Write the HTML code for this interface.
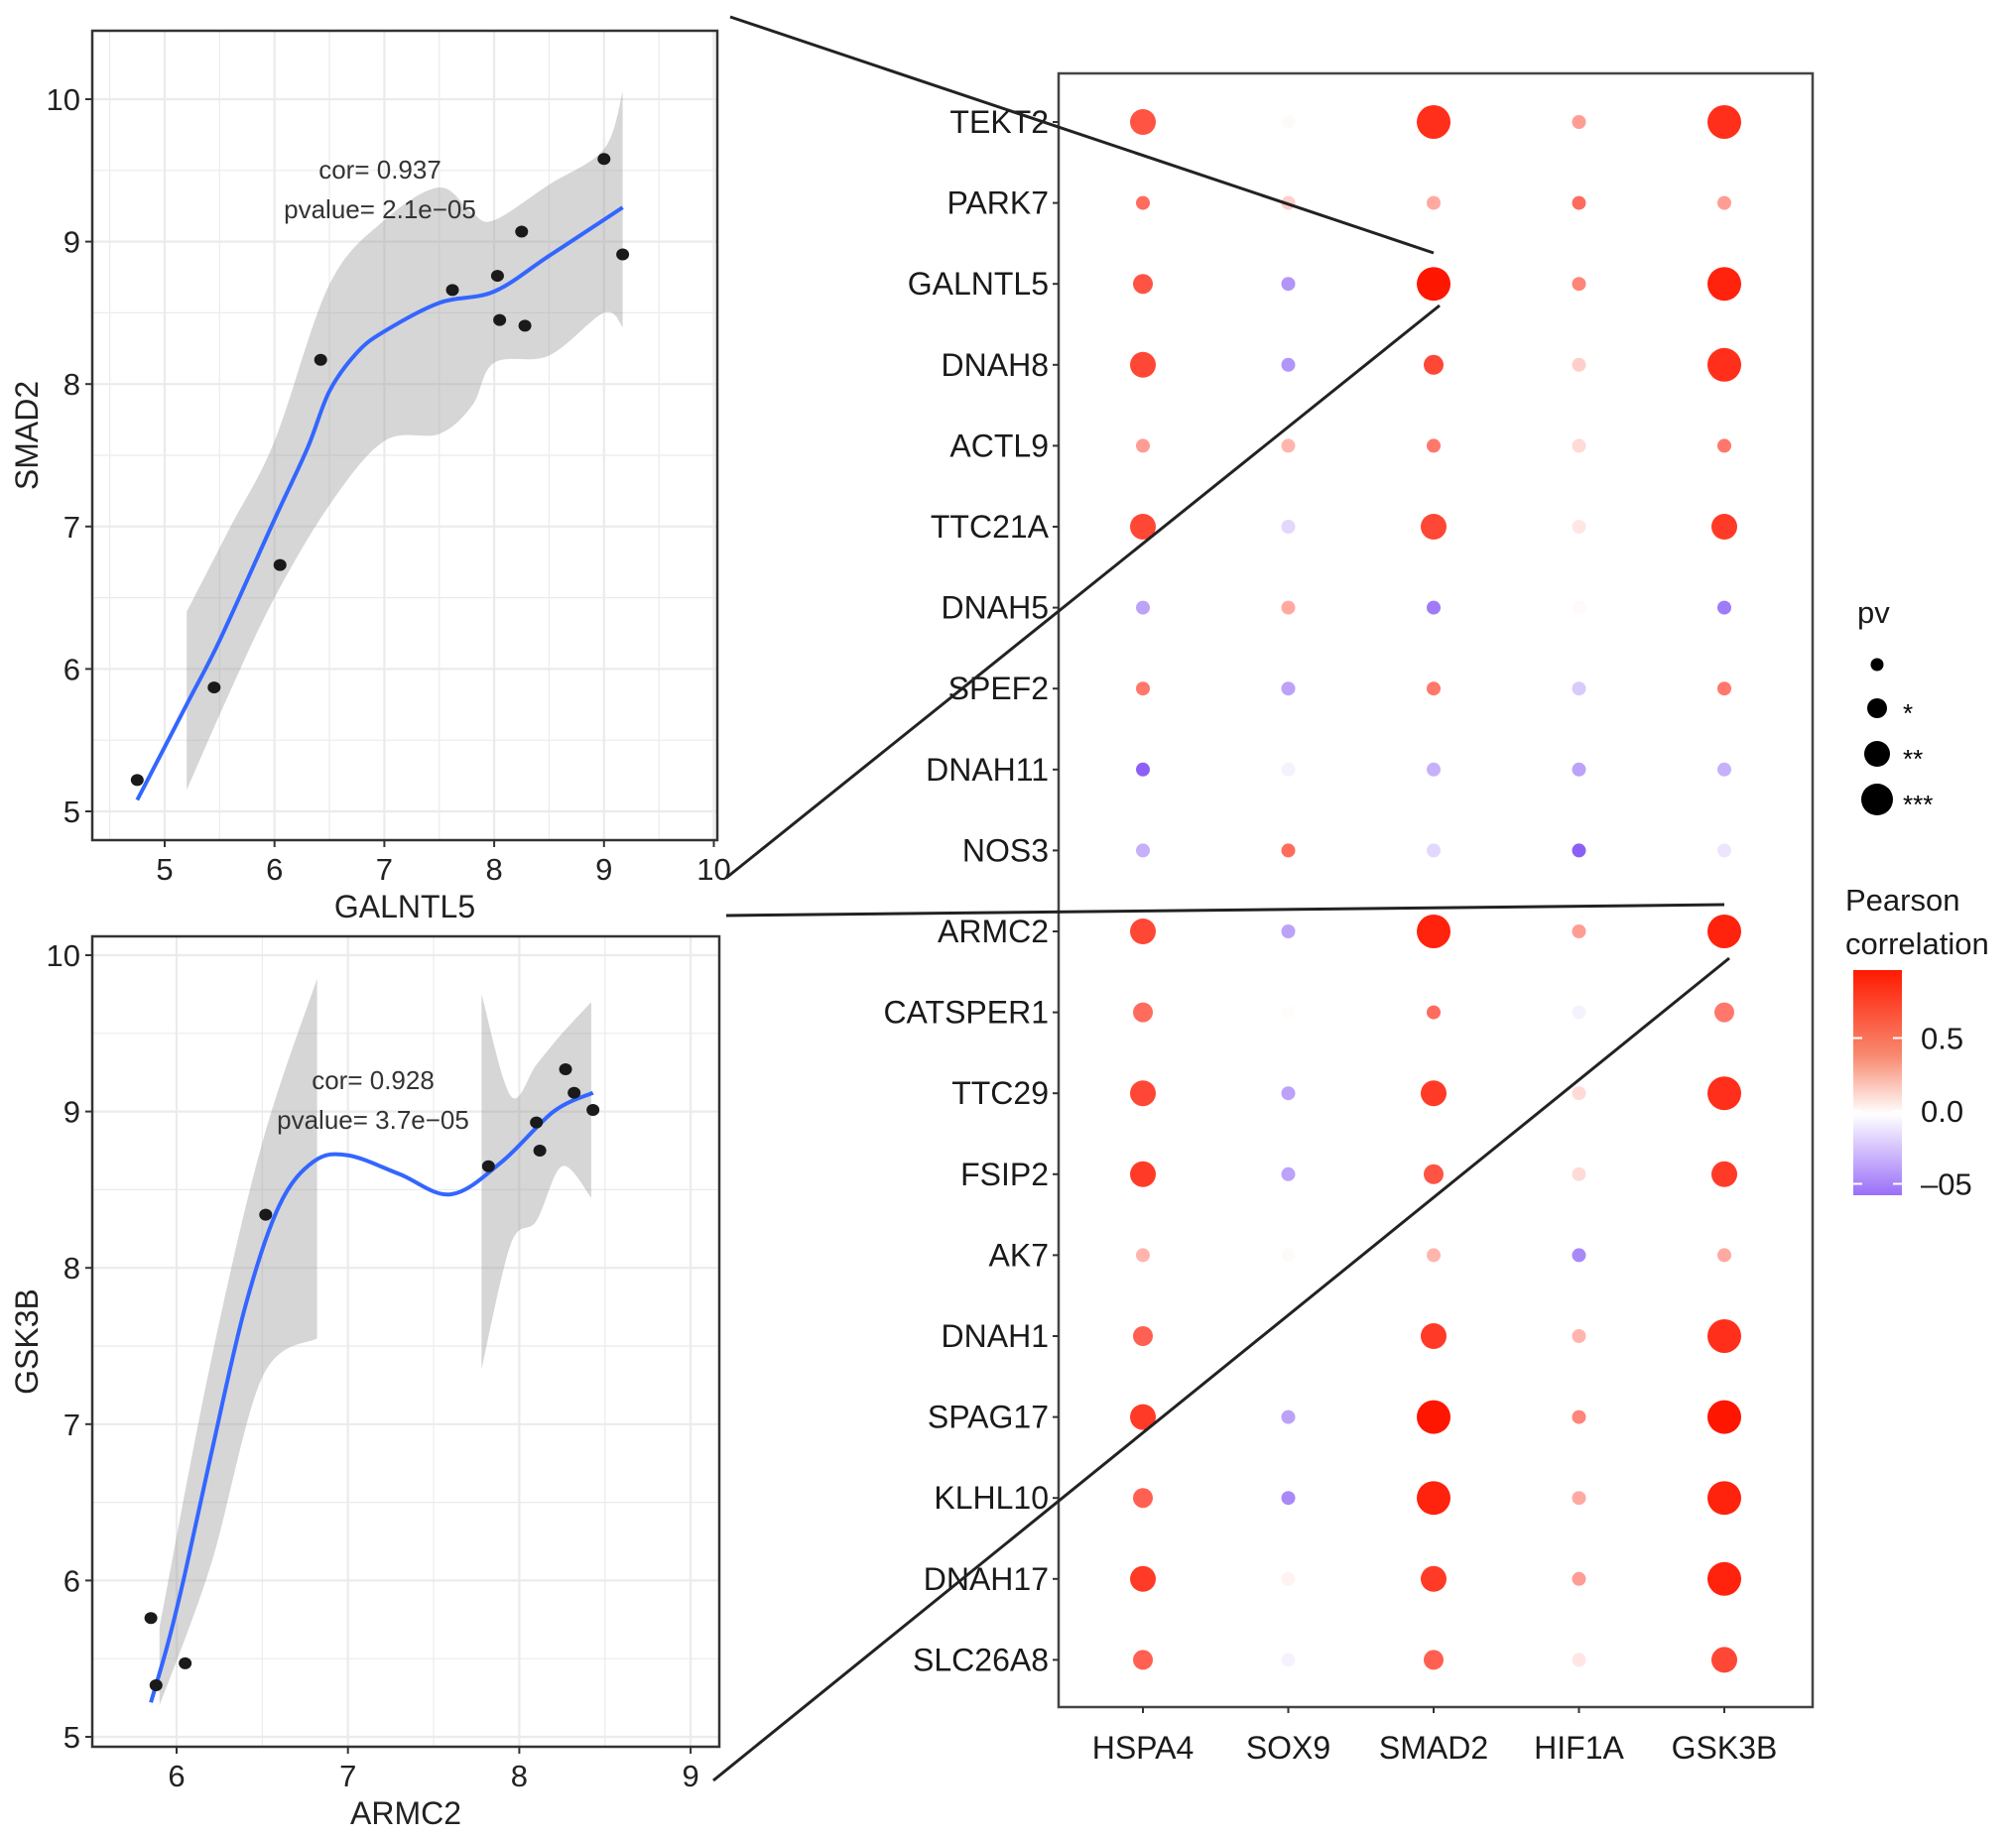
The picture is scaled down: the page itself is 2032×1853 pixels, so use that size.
<!DOCTYPE html>
<html><head><meta charset="utf-8"><style>
body{margin:0;background:#fff;}
svg{display:block;font-family:"Liberation Sans",Arial,sans-serif;}
</style></head><body>
<svg id="fig" width="2032" height="1853" viewBox="0 0 2032 1853"></svg>
<script>
// ---- scatter 1 data ----
const s1X=[4.75,5.45,6.05,6.42,7.62,8.03,8.05,8.25,8.28,9.0,9.17];
const s1Y=[5.22,5.87,6.73,8.17,8.66,8.76,8.45,9.07,8.41,9.58,8.91];
const s1LineX=[4.75,5.2,5.5,6.0,6.3,6.5,6.75,7.0,7.5,8.0,8.5,9.17];
const s1LineY=[5.08,5.75,6.2,7.05,7.55,7.95,8.22,8.37,8.57,8.65,8.9,9.24];
const s1BandX=[5.2,5.6,6.0,6.5,7.0,7.5,7.8,8.0,8.5,9.0,9.17];
const s1BandHi=[6.4,7.0,7.6,8.7,9.15,9.38,9.2,9.15,9.4,9.65,10.05];
const s1BandLo=[5.15,5.85,6.5,7.15,7.6,7.65,7.85,8.15,8.2,8.5,8.4];
// ---- scatter 2 data ----
const s2X=[5.85,5.88,6.05,6.52,7.82,8.1,8.12,8.27,8.32,8.43];
const s2Y=[5.76,5.33,5.47,8.34,8.65,8.93,8.75,9.27,9.12,9.01];
const s2LineX=[5.85,5.95,6.05,6.2,6.4,6.6,6.8,7.0,7.3,7.6,7.9,8.2,8.43];
const s2LineY=[5.22,5.6,6.05,6.8,7.75,8.4,8.68,8.72,8.6,8.47,8.68,9.0,9.12];
const s2BandAX=[5.9,6.2,6.5,6.82];
const s2BandAHi=[5.7,7.4,8.8,9.85];
const s2BandALo=[5.2,6.1,7.3,7.55];
const s2BandBX=[7.78,7.95,8.1,8.25,8.42];
const s2BandBHi=[9.75,9.1,9.3,9.5,9.7];
const s2BandBLo=[7.35,8.15,8.3,8.65,8.45];
// ---- dot plot data ----
const genes=["TEKT2","PARK7","GALNTL5","DNAH8","ACTL9","TTC21A","DNAH5","SPEF2","DNAH11","NOS3","ARMC2","CATSPER1","TTC29","FSIP2","AK7","DNAH1","SPAG17","KLHL10","DNAH17","SLC26A8"];
const targets=["HSPA4","SOX9","SMAD2","HIF1A","GSK3B"];
const corr=[
[0.7,0.02,0.85,0.4,0.85],[0.6,0.2,0.35,0.6,0.4],[0.7,-0.4,0.97,0.5,0.9],[0.75,-0.4,0.75,0.2,0.85],
[0.4,0.3,0.55,0.15,0.55],[0.75,-0.15,0.75,0.1,0.8],[-0.35,0.35,-0.5,0.02,-0.5],[0.55,-0.35,0.55,-0.2,0.55],
[-0.65,-0.05,-0.3,-0.35,-0.3],[-0.3,0.6,-0.15,-0.6,-0.1],[0.75,-0.35,0.9,0.4,0.9],[0.6,0.01,0.6,-0.05,0.55],
[0.75,-0.35,0.8,0.15,0.85],[0.8,-0.35,0.7,0.15,0.8],[0.3,0.02,0.3,-0.45,0.35],[0.65,0,0.8,0.3,0.85],
[0.8,-0.35,0.95,0.5,0.95],[0.65,-0.45,0.9,0.35,0.9],[0.8,0.05,0.8,0.4,0.9],[0.65,-0.05,0.65,0.1,0.75]];
const sig=[
[2,0,3,0,3],[0,0,0,0,0],[1,0,3,0,3],[2,0,1,0,3],[0,0,0,0,0],[2,0,2,0,2],[0,0,0,0,0],[0,0,0,0,0],
[0,0,0,0,0],[0,0,0,0,0],[2,0,3,0,3],[1,0,0,0,1],[2,0,2,0,3],[2,0,1,0,2],[0,0,0,0,0],[1,0,2,0,3],
[2,0,3,0,3],[1,0,3,0,3],[2,0,2,0,3],[1,0,1,0,2]];
const pvLabels=["","*","**","***"];
const cbTicks=[0.5,0.0,-0.5];
const cbTickLabels=["0.5","0.0","\u201305"];

const NS="http://www.w3.org/2000/svg";
const svg=document.getElementById('fig');
function mk(tag,attrs,parent){const e=document.createElementNS(NS,tag);for(const k in attrs)e.setAttribute(k,attrs[k]);(parent||svg).appendChild(e);return e;}
function txt(s,attrs,parent){const e=mk('text',attrs,parent);e.textContent=s;return e;}
// Catmull-Rom smooth path through points (no leading M)
function smooth(pts){
  let d=pts[0][0]+','+pts[0][1];
  for(let i=0;i<pts.length-1;i++){
    const p0=pts[i-1]||pts[i],p1=pts[i],p2=pts[i+1],p3=pts[i+2]||p2;
    const c1=[p1[0]+(p2[0]-p0[0])/6,p1[1]+(p2[1]-p0[1])/6];
    const c2=[p2[0]-(p3[0]-p1[0])/6,p2[1]-(p3[1]-p1[1])/6];
    d+=' C'+c1[0]+','+c1[1]+' '+c2[0]+','+c2[1]+' '+p2[0]+','+p2[1];
  }
  return d;
}

function scatter(cfg){
  const g=mk('g',{});
  
  
  const X=v=>cfg.x0px+(v-cfg.x0)*cfg.xs, Y=v=>cfg.y0px-(v-cfg.y0)*cfg.ys;
  mk('rect',{x:cfg.L,y:cfg.T,width:cfg.R-cfg.L,height:cfg.B-cfg.T,fill:'#fff'},g);
  for(let v=cfg.xmin;v<=cfg.xmax+1e-9;v+=0.5){const px=X(v);if(px<cfg.L||px>cfg.R)continue;
    mk('line',{x1:px,x2:px,y1:cfg.T,y2:cfg.B,stroke:'#ebebeb','stroke-width':Number.isInteger(v)?2.2:1.2},g);}
  for(let v=4.5;v<=10.5;v+=0.5){const py=Y(v);if(py<cfg.T||py>cfg.B)continue;
    mk('line',{x1:cfg.L,x2:cfg.R,y1:py,y2:py,stroke:'#ebebeb','stroke-width':Number.isInteger(v)?2.2:1.2},g);}
  cfg.bands.forEach(b=>{
    const hi=b.x.map((v,i)=>[X(v),Y(b.hi[i])]);
    const lo=b.x.map((v,i)=>[X(v),Y(b.lo[i])]).reverse();
    const d='M'+smooth(hi)+' L'+smooth(lo)+'Z';
    const p=mk('path',{d:d,fill:'#999','fill-opacity':0.4},g);
    
    
  });
  const lp=mk('path',{d:'M'+smooth(cfg.lx.map((v,i)=>[X(v),Y(cfg.ly[i])])),fill:'none',stroke:'#3366ff','stroke-width':4,'stroke-linejoin':'round'},g);
  
  
  cfg.px.forEach((v,i)=>{
    const c=mk('ellipse',{cx:X(v),cy:Y(cfg.py[i]),rx:6.5,ry:6,fill:'#1a1a1a'},g);
    
    
  });
  mk('rect',{x:cfg.L,y:cfg.T,width:cfg.R-cfg.L,height:cfg.B-cfg.T,fill:'none',stroke:'#333','stroke-width':2.5},g);
  cfg.xt.forEach(v=>{const px=X(v);mk('line',{x1:px,x2:px,y1:cfg.B,y2:cfg.B+7,stroke:'#333','stroke-width':2},g);
    const t=txt(String(v),{x:px,y:cfg.B+40,'font-size':31,'text-anchor':'middle',fill:'#222'},g);
    });
  [5,6,7,8,9,10].forEach(v=>{const py=Y(v);mk('line',{x1:cfg.L-7,x2:cfg.L,y1:py,y2:py,stroke:'#333','stroke-width':2},g);
    const t=txt(String(v),{x:cfg.L-12,y:py+11,'font-size':31,'text-anchor':'end',fill:'#222'},g);
    });
  const xt=txt(cfg.xlab,{x:(cfg.L+cfg.R)/2,y:cfg.B+78,'font-size':32,'text-anchor':'middle',fill:'#222'},g);
  
  const cy=(cfg.T+cfg.B)/2;
  const yt=txt(cfg.ylab,{x:38,y:cy,'font-size':32,'text-anchor':'middle',fill:'#222',transform:'rotate(-90 38 '+cy+')'},g);
  
  const a1=txt(cfg.cor,{x:cfg.annX,y:cfg.annY,'font-size':26,'text-anchor':'middle',fill:'#333'},g);
  
  const a2=txt(cfg.pv,{x:cfg.annX,y:cfg.annY+40,'font-size':26,'text-anchor':'middle',fill:'#333'},g);
  
}
scatter({name:'scatter-galntl5-smad2',L:93,R:723,T:31,B:847,x0:5,x0px:166,xs:110.7,y0:5,y0px:818,ys:143.6,
  xmin:4.5,xmax:10,xt:[5,6,7,8,9,10],px:s1X,py:s1Y,lx:s1LineX,ly:s1LineY,
  bands:[{x:s1BandX,hi:s1BandHi,lo:s1BandLo}],xlab:'GALNTL5',ylab:'SMAD2',
  cor:'cor= 0.937',pv:'pvalue= 2.1e\u221205',annX:383,annY:180});
scatter({name:'scatter-armc2-gsk3b',L:93,R:725,T:944,B:1761,x0:6,x0px:178,xs:172.7,y0:5,y0px:1751,ys:157.6,
  xmin:5.5,xmax:9.5,xt:[6,7,8,9],px:s2X,py:s2Y,lx:s2LineX,ly:s2LineY,
  bands:[{x:s2BandAX,hi:s2BandAHi,lo:s2BandALo},{x:s2BandBX,hi:s2BandBHi,lo:s2BandBLo}],xlab:'ARMC2',ylab:'GSK3B',
  cor:'cor= 0.928',pv:'pvalue= 3.7e\u221205',annX:376,annY:1098});

// ---- dot plot ----
const DP={L:1067,R:1827,T:74,B:1721};
const colX=i=>1152+i*146.5, rowY=j=>123+j*81.6;
const radius=[7,10,13,17];
function colorFor(v){
  if(v>=0){const t=Math.min(v/0.95,1);return 'rgb(255,'+Math.round(255-t*(255-22))+','+Math.round(255-t*255)+')';}
  const t=Math.min(-v/0.6,1);return 'rgb('+Math.round(255-t*(255-140))+','+Math.round(255-t*(255-96))+','+Math.round(255-t*(255-245))+')';
}
const dg=mk('g',{});


mk('rect',{x:DP.L,y:DP.T,width:DP.R-DP.L,height:DP.B-DP.T,fill:'#fff',stroke:'#444','stroke-width':2.5},dg);
genes.forEach((gname,j)=>{
  const t=txt(gname,{x:DP.L-10,y:rowY(j)+11,'font-size':32,'text-anchor':'end',fill:'#1a1a1a'},dg);
  
  mk('line',{x1:DP.L-6,x2:DP.L,y1:rowY(j),y2:rowY(j),stroke:'#333','stroke-width':2},dg);
  targets.forEach((tg,i)=>{
    const c=mk('circle',{cx:colX(i),cy:rowY(j),r:radius[sig[j][i]],fill:colorFor(corr[j][i])},dg);
    
    
  });
});
targets.forEach((tg,i)=>{
  mk('line',{x1:colX(i),x2:colX(i),y1:DP.B,y2:DP.B+6,stroke:'#333','stroke-width':2},dg);
  const t=txt(tg,{x:colX(i),y:DP.B+52,'font-size':32,'text-anchor':'middle',fill:'#1a1a1a'},dg);
  
});

// ---- legends ----
const pt=txt('pv',{x:1872,y:628,'font-size':31,fill:'#1a1a1a'});

const pvY=[670,714,760,806], pvR=[6.5,10,13,16];
pvLabels.forEach((l,k)=>{
  const c=mk('circle',{cx:1892,cy:pvY[k],r:pvR[k],fill:'#000'});
  
  if(l){const t=txt(l,{x:1918,y:pvY[k]+14,'font-size':26,fill:'#000'});
    }
});
const ct1=txt('Pearson',{x:1860,y:918,'font-size':31,fill:'#1a1a1a'});

const ct2=txt('correlation',{x:1860,y:962,'font-size':31,fill:'#1a1a1a'});

const defs=mk('defs',{});
const lg=mk('linearGradient',{id:'cb',x1:0,y1:0,x2:0,y2:1},defs);
[[0,'#ff1a00'],[0.38,'#f88a70'],[0.64,'#ffffff'],[1,'#9a6ff8']].forEach(s=>mk('stop',{offset:s[0],'stop-color':s[1]},lg));
const cb=mk('rect',{x:1868,y:978,width:49,height:227,fill:'url(#cb)'});

const cbY=v=>1120-v*147;
cbTicks.forEach((v,k)=>{
  mk('line',{x1:1868,x2:1877,y1:cbY(v),y2:cbY(v),stroke:'#fff','stroke-width':2});
  mk('line',{x1:1908,x2:1917,y1:cbY(v),y2:cbY(v),stroke:'#fff','stroke-width':2});
  const t=txt(cbTickLabels[k],{x:1936,y:cbY(v)+11,'font-size':31,fill:'#1a1a1a'});
  
});

// ---- connector lines ----
[[736,17,1445,255],[732,885,1451,308],[732,923,1738,912],[719,1795,1743,966]].forEach(l=>{
  const e=mk('line',{x1:l[0],y1:l[1],x2:l[2],y2:l[3],stroke:'#222','stroke-width':3});
  
  
});
</script>
</body></html>
